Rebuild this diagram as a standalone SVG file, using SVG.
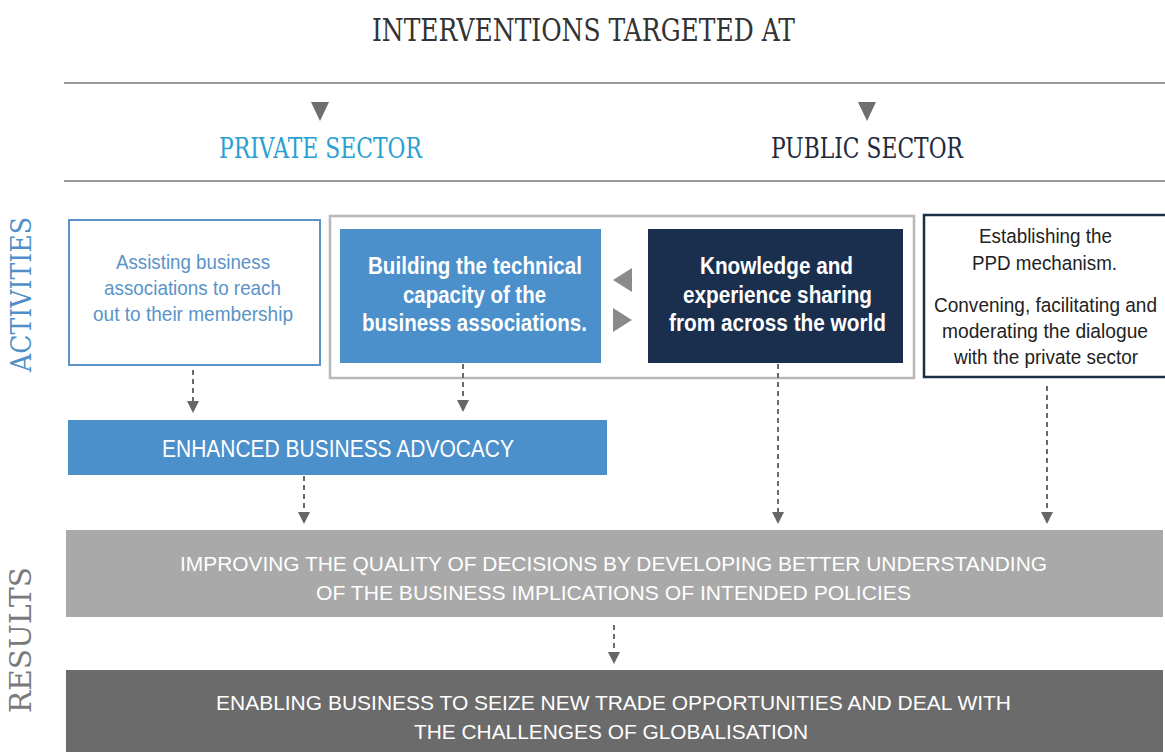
<svg xmlns="http://www.w3.org/2000/svg" width="1165" height="752" viewBox="0 0 1165 752">
  <style>
    .slab { font-family: "DejaVu Serif", "Liberation Serif", serif; }
    .sans { font-family: "Liberation Sans", Arial, sans-serif; }
    .rule { stroke: #9a9a9a; stroke-width: 2; }
    .dash { stroke: #6a6a6a; stroke-width: 2; stroke-dasharray: 5 4; fill: none; }
    .head { fill: #666; }
    .tri { fill: #6f6f6f; }
    .lr { fill: #8a8a8a; }
  </style>
  <rect width="1165" height="752" fill="#ffffff"/>

  <!-- headings -->
  <text class="slab" x="583.5" y="41" font-size="32" fill="#333" text-anchor="middle" textLength="423" lengthAdjust="spacingAndGlyphs">INTERVENTIONS TARGETED AT</text>
  <line class="rule" x1="64" y1="83" x2="1165" y2="83"/>
  <polygon class="tri" points="311,102 329,102 320,121"/>
  <polygon class="tri" points="858,102 876,102 867,121"/>
  <text class="slab" x="320.5" y="158" font-size="28" fill="#2ba0d2" text-anchor="middle" textLength="203" lengthAdjust="spacingAndGlyphs">PRIVATE SECTOR</text>
  <text class="slab" x="867" y="158" font-size="28" fill="#1f2a3e" text-anchor="middle" textLength="192" lengthAdjust="spacingAndGlyphs">PUBLIC SECTOR</text>
  <line class="rule" x1="64" y1="181" x2="1165" y2="181"/>

  <!-- side labels -->
  <text class="slab" transform="translate(31,294.5) rotate(-90)" font-size="27" fill="#4f8fc6" text-anchor="middle" textLength="155" lengthAdjust="spacingAndGlyphs">ACTIVITIES</text>
  <text class="slab" transform="translate(31,640) rotate(-90)" font-size="29" fill="#7a7a7a" text-anchor="middle" textLength="146" lengthAdjust="spacingAndGlyphs">RESULTS</text>

  <!-- frame round the two linked capacity activities -->
  <rect id="capacity-frame" x="330" y="216" width="584" height="162" fill="none" stroke="#b8b8b8" stroke-width="2.5"/>

  <g id="node-assisting">
    <rect x="69" y="220" width="251" height="145" fill="#fff" stroke="#5b93c9" stroke-width="2"/>
    <g class="sans" font-size="21" fill="#5a93c7" text-anchor="middle">
      <text x="193" y="268.5" textLength="154" lengthAdjust="spacingAndGlyphs">Assisting business</text>
      <text x="192.5" y="294.5" textLength="177" lengthAdjust="spacingAndGlyphs">associations to reach</text>
      <text x="193" y="320.5" textLength="200" lengthAdjust="spacingAndGlyphs">out to their membership</text>
    </g>
  </g>

  <g id="node-building">
    <rect x="340" y="229" width="261" height="134" fill="#4b8fcb"/>
    <g class="sans" font-size="23" font-weight="bold" fill="#fff" text-anchor="middle">
      <text x="475" y="274" textLength="214" lengthAdjust="spacingAndGlyphs">Building the technical</text>
      <text x="474.5" y="303" textLength="143" lengthAdjust="spacingAndGlyphs">capacity of the</text>
      <text x="474.5" y="331" textLength="225" lengthAdjust="spacingAndGlyphs">business associations.</text>
    </g>
  </g>

  <g id="exchange-arrows">
    <polygon class="lr" points="632,268 632,292 613,280"/>
    <polygon class="lr" points="613,308 613,332 632,320"/>
  </g>

  <g id="node-knowledge">
    <rect x="648" y="229" width="255" height="134" fill="#1a2f4e"/>
    <g class="sans" font-size="23" font-weight="bold" fill="#fff" text-anchor="middle">
      <text x="776.5" y="274" textLength="153" lengthAdjust="spacingAndGlyphs">Knowledge and</text>
      <text x="777.5" y="303" textLength="189" lengthAdjust="spacingAndGlyphs">experience sharing</text>
      <text x="777.5" y="331" textLength="217" lengthAdjust="spacingAndGlyphs">from across the world</text>
    </g>
  </g>

  <g id="node-ppd">
    <rect x="924" y="215" width="245" height="162" fill="#fff" stroke="#1e2d47" stroke-width="2.5"/>
    <g class="sans" font-size="20.5" fill="#222" text-anchor="middle">
      <text x="1045.5" y="242.5" textLength="133" lengthAdjust="spacingAndGlyphs">Establishing the</text>
      <text x="1044.5" y="269.5" textLength="145" lengthAdjust="spacingAndGlyphs">PPD mechanism.</text>
      <text x="1045.5" y="311.5" textLength="223" lengthAdjust="spacingAndGlyphs">Convening, facilitating and</text>
      <text x="1045" y="337.5" textLength="206" lengthAdjust="spacingAndGlyphs">moderating the dialogue</text>
      <text x="1046" y="363.5" textLength="184" lengthAdjust="spacingAndGlyphs">with the private sector</text>
    </g>
  </g>

  <g id="node-advocacy">
    <rect x="68" y="420" width="539" height="55" fill="#4b8fcb"/>
    <text class="sans" x="338" y="456.5" font-size="23.5" fill="#fff" text-anchor="middle" textLength="352" lengthAdjust="spacingAndGlyphs">ENHANCED BUSINESS ADVOCACY</text>
  </g>

  <g id="node-decisions">
    <rect x="66" y="530" width="1097" height="87" fill="#a9a9a9"/>
    <g class="sans" font-size="21" fill="#fff" text-anchor="middle">
      <text x="613.5" y="570.5" textLength="867" lengthAdjust="spacingAndGlyphs">IMPROVING THE QUALITY OF DECISIONS BY DEVELOPING BETTER UNDERSTANDING</text>
      <text x="613.5" y="599.5" textLength="595" lengthAdjust="spacingAndGlyphs">OF THE BUSINESS IMPLICATIONS OF INTENDED POLICIES</text>
    </g>
  </g>

  <g id="node-enabling">
    <rect x="66" y="670" width="1097" height="82" fill="#6b6b6b"/>
    <g class="sans" font-size="21" fill="#fff" text-anchor="middle">
      <text x="613.5" y="709.5" textLength="795" lengthAdjust="spacingAndGlyphs">ENABLING BUSINESS TO SEIZE NEW TRADE OPPORTUNITIES AND DEAL WITH</text>
      <text x="611" y="738.5" textLength="394" lengthAdjust="spacingAndGlyphs">THE CHALLENGES OF GLOBALISATION</text>
    </g>
  </g>

  <g id="connectors">
    <line class="dash" x1="193" y1="370" x2="193" y2="401"/>
    <polygon class="head" points="187,401 199,401 193,413"/>
    <line class="dash" x1="463" y1="364" x2="463" y2="400"/>
    <polygon class="head" points="457,400 469,400 463,412"/>
    <line class="dash" x1="304" y1="476" x2="304" y2="512"/>
    <polygon class="head" points="298,512 310,512 304,524"/>
    <line class="dash" x1="778" y1="364" x2="778" y2="512"/>
    <polygon class="head" points="772,512 784,512 778,524"/>
    <line class="dash" x1="1047" y1="386" x2="1047" y2="512"/>
    <polygon class="head" points="1041,512 1053,512 1047,524"/>
    <line class="dash" x1="614" y1="625" x2="614" y2="652"/>
    <polygon class="head" points="608,652 620,652 614,664"/>
  </g>
</svg>
